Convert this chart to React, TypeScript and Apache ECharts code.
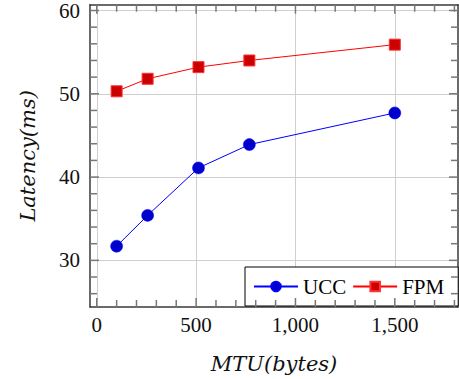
import React, { useEffect, useRef } from "react";
import * as echarts from "echarts";

const mtu = [100, 256, 512, 768, 1500];
const ucc = [31.7, 35.4, 41.1, 43.9, 47.7];
const fpm = [50.3, 51.8, 53.2, 54.0, 55.9];
const xMajor = [0, 500, 1000, 1500];
const xMinor = [100, 200, 300, 400, 600, 700, 800, 900, 1100, 1200, 1300, 1400, 1600, 1700, 1800];
const yMajor = [30, 40, 50, 60];
const yMinor = [26, 28, 32, 34, 36, 38, 42, 44, 46, 48, 52, 54, 56, 58];

const XMIN = -34;
const XMAX = 1818;
const YMIN = 24.4;
const YMAX = 60.7;

const tickFont = "Liberation Serif";
const titleFont = "DejaVu Serif";
const axisColor = "#3a3a3a";
const tickColor = "#777777";
const gridColor = "#cfcfcf";

export default function App() {
  const ref = useRef<HTMLDivElement>(null);
  useEffect(() => {
    if (!ref.current) return;
    const chart = echarts.init(ref.current, null, { renderer: "svg" });
    const fmt = (v: number) => v.toLocaleString("en-US");

    // [value, isMajor, axis (0 = x, 1 = y)]
    const tickData: number[][] = [
      ...xMajor.map((v) => [v, 1, 0]),
      ...xMinor.map((v) => [v, 0, 0]),
      ...yMajor.map((v) => [v, 1, 1]),
      ...yMinor.map((v) => [v, 0, 1]),
    ];

    const renderTick = (_params: any, api: any) => {
      const v = api.value(0);
      const major = api.value(1) === 1;
      const isY = api.value(2) === 1;
      const len = major ? 9 : 7;
      const style = { stroke: tickColor, lineWidth: 1.5, fill: null };
      if (!isY) {
        const p1 = api.coord([v, YMIN]);
        const p2 = api.coord([v, YMAX]);
        return {
          type: "group",
          children: [
            { type: "line", shape: { x1: p1[0], y1: p1[1], x2: p1[0], y2: p1[1] - len }, style },
            { type: "line", shape: { x1: p2[0], y1: p2[1], x2: p2[0], y2: p2[1] + len }, style },
          ],
        };
      }
      const q1 = api.coord([XMIN, v]);
      const q2 = api.coord([XMAX, v]);
      return {
        type: "group",
        children: [
          { type: "line", shape: { x1: q1[0], y1: q1[1], x2: q1[0] + len, y2: q1[1] }, style },
          { type: "line", shape: { x1: q2[0], y1: q2[1], x2: q2[0] - len, y2: q2[1] }, style },
        ],
      };
    };

    chart.setOption({
      animation: false,
      backgroundColor: "#fff",
      grid: { left: 90, top: 4, width: 368, height: 303, containLabel: false },
      xAxis: [
        {
          type: "value",
          min: XMIN,
          max: XMAX,
          position: "bottom",
          axisLine: { show: true, onZero: false, lineStyle: { color: axisColor, width: 1.5 } },
          axisTick: { show: false, customValues: xMajor },
          axisLabel: { show: true, customValues: xMajor, formatter: fmt, fontFamily: tickFont, fontSize: 21, color: "#111", margin: 7 },
          splitLine: { show: true, lineStyle: { color: gridColor, width: 1 } },
          name: "MTU(bytes)",
          nameLocation: "middle",
          nameGap: 46,
          nameTextStyle: { fontFamily: titleFont, fontStyle: "italic", fontSize: 21, color: "#111" },
        },
        {
          type: "value",
          min: XMIN,
          max: XMAX,
          position: "top",
          axisLine: { show: true, onZero: false, lineStyle: { color: axisColor, width: 1.5 } },
          axisTick: { show: false },
          axisLabel: { show: false },
          splitLine: { show: false },
        },
      ],
      yAxis: [
        {
          type: "value",
          min: YMIN,
          max: YMAX,
          position: "left",
          axisLine: { show: true, onZero: false, lineStyle: { color: axisColor, width: 1.5 } },
          axisTick: { show: false, customValues: yMajor },
          axisLabel: { show: true, customValues: yMajor, fontFamily: tickFont, fontSize: 21, color: "#111", margin: 10 },
          splitLine: { show: true, lineStyle: { color: gridColor, width: 1 } },
          name: "Latency(ms)",
          nameLocation: "middle",
          nameGap: 52,
          nameRotate: 90,
          nameTextStyle: { fontFamily: titleFont, fontStyle: "italic", fontSize: 21, color: "#111" },
        },
        {
          type: "value",
          min: YMIN,
          max: YMAX,
          position: "right",
          axisLine: { show: true, onZero: false, lineStyle: { color: axisColor, width: 1.5 } },
          axisTick: { show: false },
          axisLabel: { show: false },
          splitLine: { show: false },
        },
      ],
      legend: {
        left: 245,
        top: 267,
        orient: "horizontal",
        itemWidth: 44,
        itemHeight: 12,
        itemGap: 6,
        padding: [9, 14, 9, 8],
        borderColor: "#000",
        borderWidth: 1,
        borderRadius: 0,
        backgroundColor: "#fff",
        textStyle: { fontFamily: tickFont, fontSize: 21, color: "#000" },
        data: ["UCC", "FPM"],
      },
      series: [
        {
          name: "ticks",
          type: "custom",
          coordinateSystem: "cartesian2d",
          xAxisIndex: 0,
          yAxisIndex: 0,
          clip: false,
          silent: true,
          z: 5,
          data: tickData,
          renderItem: renderTick,
        },
        {
          name: "UCC",
          type: "line",
          xAxisIndex: 0,
          yAxisIndex: 0,
          data: mtu.map((x, i) => [x, ucc[i]]),
          symbol: "circle",
          symbolSize: 12,
          lineStyle: { color: "#0000ff", width: 1 },
          itemStyle: { color: "#0000cc", borderColor: "#0000ff", borderWidth: 0.5 },
          z: 3,
        },
        {
          name: "FPM",
          type: "line",
          xAxisIndex: 0,
          yAxisIndex: 0,
          data: mtu.map((x, i) => [x, fpm[i]]),
          symbol: "rect",
          symbolSize: 11,
          lineStyle: { color: "#ff0000", width: 1 },
          itemStyle: { color: "#cc0000", borderColor: "#ff3333", borderWidth: 1 },
          z: 3,
        },
      ],
    });
    return () => chart.dispose();
  }, []);
  return (
    <div
      ref={ref}
      style={{ position: "fixed", left: 0, top: 0, width: 459, height: 379, background: "#fff" }}
    />
  );
}
